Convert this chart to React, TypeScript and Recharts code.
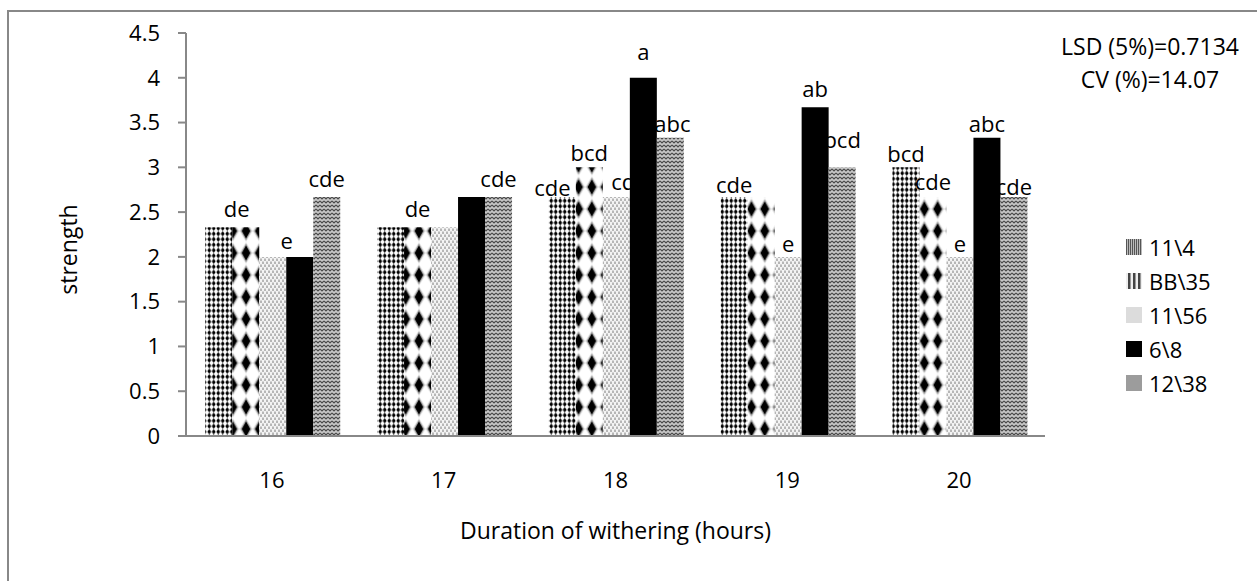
import { BarChart, Bar, XAxis, YAxis, LabelList, Label } from "recharts";

// categories
const hours = ["16", "17", "18", "19", "20"];

// series (strength)
const names = ["11\\4", "BB\\35", "11\\56", "6\\8", "12\\38"];
const v114 = [2.33, 2.33, 2.67, 2.67, 3.0];
const vBB35 = [2.33, 2.33, 3.0, 2.67, 2.67];
const v1156 = [2.0, 2.33, 2.67, 2.0, 2.0];
const v68 = [2.0, 2.67, 4.0, 3.67, 3.33];
const v1238 = [2.67, 2.67, 3.33, 3.0, 2.67];

// significance letters (blank where the chart shows none)
const l114 = ["", "", "cde", "cde", "bcd"];
const lBB35 = ["de", "de", "bcd", "", "cde"];
const l1156 = ["e", "", "cde", "e", "e"];
const l68 = ["", "", "a", "ab", "abc"];
const l1238 = ["cde", "cde", "abc", "bcd", "cde"];

const yTicks = [0, 0.5, 1, 1.5, 2, 2.5, 3, 3.5, 4, 4.5];
const bandEdges = [0, 1, 2, 3, 4, 5];

const data = hours.map((h, i) => ({
  hour: h,
  s1: v114[i],
  s2: vBB35[i],
  s3: v1156[i],
  s4: v68[i],
  s5: v1238[i],
}));

// label placement tweaks [dx, gap above bar]
const nudge1 = [[0, 6], [0, 6], [-10, 1], [0, 4], [0, 5]];
const nudge2 = [[-9, 10], [0, 10], [0, 6], [0, 6], [0, 7]];
const nudge3 = [[14, 8], [0, 6], [13, 7], [0, 5], [0, 5]];
const nudge4 = [[0, 6], [0, 6], [0, 18], [0, 10], [0, 6]];
const nudge5 = [[0, 10], [0, 10], [2, 6], [0, 19], [0, 2]];

const FONT = "'Open Sans', sans-serif";
const AXIS = "#888888";

const makeLabel = (labels: string[], nudge: number[][]) => (props: any) => {
  const i = props.index;
  const text = labels[i];
  if (!text) return null;
  const vb = props.viewBox || props;
  const x = (vb.x ?? props.x) + (vb.width ?? props.width) / 2 + nudge[i][0];
  const y = (vb.y ?? props.y) - nudge[i][1];
  return (
    <text x={x} y={y} textAnchor="middle" fontSize={22} fontFamily={FONT} fill="#000">
      {text}
    </text>
  );
};

const swatches = [
  "repeating-linear-gradient(90deg, #555 0 1px, #bbb 1px 2px)",
  "repeating-linear-gradient(90deg, #eee 0 2px, #444 2px 4px, #999 4px 5px)",
  "#dcdcdc",
  "#000",
  "#9c9c9c",
];

const LegendBox = () => (
  <div style={{ position: "absolute", left: 1126, top: 230, fontFamily: FONT, fontSize: 22, color: "#000" }}>
    {names.map((n, i) => (
      <div key={n} style={{ display: "flex", alignItems: "center", height: 34 }}>
        <div style={{ width: 16, height: 16, background: swatches[i], marginRight: 7 }} />
        <span>{n}</span>
      </div>
    ))}
  </div>
);

export default function App() {
  return (
    <div style={{ position: "absolute", left: 0, top: 0, width: 1257, height: 581, overflow: "hidden", background: "#fff" }}>
      <div
        style={{
          position: "absolute",
          left: 7,
          top: 10,
          width: 1400,
          height: 700,
          borderLeft: `2px solid ${AXIS}`,
          borderTop: `2px solid ${AXIS}`,
        }}
      />
      <div
        style={{
          position: "absolute",
          left: 1050,
          top: 30,
          width: 200,
          textAlign: "center",
          fontFamily: FONT,
          fontSize: 23,
          lineHeight: "33px",
          color: "#000",
        }}
      >
        <div>LSD (5%)=0.7134</div>
        <div>CV (%)=14.07</div>
      </div>
      <div style={{ position: "absolute", left: 0, top: 0 }}>
        <BarChart
          width={1257}
          height={581}
          data={data}
          margin={{ top: 33, right: 212, left: 0, bottom: 0 }}
          barCategoryGap="11.2%"
          barGap={0}
          style={{ fontFamily: FONT }}
        >
          <defs>
            <pattern id="p114" width="4.5" height="5.5" patternUnits="userSpaceOnUse">
              <rect width="4.5" height="5.5" fill="#fff" />
              <polygon points="2.25,0 4.2,2.75 2.25,5.5 0.3,2.75" fill="#000" />
            </pattern>
            <pattern id="pBB35" width="13.3" height="22" patternUnits="userSpaceOnUse">
              <rect width="13.3" height="22" fill="#fff" />
              <polygon points="6.65,0 13.3,11 6.65,22 0,11" fill="#e4e4e4" />
              <polygon points="6.65,1.5 12,11 6.65,20.5 1.3,11" fill="#9a9a9a" />
              <polygon points="6.65,3.5 10.8,11 6.65,18.5 2.5,11" fill="#000" />
            </pattern>
            <pattern id="p1156" width="4" height="6" patternUnits="userSpaceOnUse">
              <rect width="4" height="6" fill="#f4f4f4" />
              <line x1="1" y1="0.5" x2="1" y2="3" stroke="#6a6a6a" strokeWidth="0.9" />
              <line x1="3" y1="3.5" x2="3" y2="6" stroke="#6a6a6a" strokeWidth="0.9" />
            </pattern>
            <pattern id="p1238" width="4" height="4" patternUnits="userSpaceOnUse">
              <rect width="4" height="4" fill="#c8c8c8" />
              <path d="M0 1 L2 3 L4 1" stroke="#4a4a4a" strokeWidth="1.1" fill="none" />
            </pattern>
          </defs>
          <XAxis
            xAxisId={0}
            type="number"
            domain={[0, 5]}
            ticks={bandEdges}
            allowDataOverflow
            height={1}
            tick={false}
            tickSize={9}
            axisLine={{ stroke: AXIS, strokeWidth: 2 }}
            tickLine={{ stroke: AXIS, strokeWidth: 2 }}
          />
          <XAxis
            xAxisId={1}
            dataKey="hour"
            height={144}
            axisLine={false}
            tickLine={false}
            tickSize={0}
            tickMargin={35}
            tick={{ fontSize: 22, fill: "#000", fontFamily: FONT }}
          >
            <Label
              value="Duration of withering (hours)"
              position="insideBottom"
              offset={42}
              style={{ fontSize: 23, fill: "#000", fontFamily: FONT }}
            />
          </XAxis>
          <YAxis
            width={186}
            domain={[0, 4.5]}
            ticks={yTicks}
            interval={0}
            tickSize={8}
            tickMargin={18}
            axisLine={{ stroke: AXIS, strokeWidth: 2 }}
            tickLine={{ stroke: AXIS, strokeWidth: 2 }}
            tick={{ fontSize: 22, fill: "#000", fontFamily: FONT }}
          >
            <Label
              value="strength"
              angle={-90}
              position="center"
              dx={-24}
              dy={15}
              style={{ fontSize: 23, fill: "#000", fontFamily: FONT }}
            />
          </YAxis>
          <Bar xAxisId={1} dataKey="s1" name={names[0]} fill="url(#p114)" isAnimationActive={false}>
            <LabelList dataKey="s1" content={makeLabel(l114, nudge1)} />
          </Bar>
          <Bar xAxisId={1} dataKey="s2" name={names[1]} fill="url(#pBB35)" isAnimationActive={false}>
            <LabelList dataKey="s2" content={makeLabel(lBB35, nudge2)} />
          </Bar>
          <Bar xAxisId={1} dataKey="s3" name={names[2]} fill="url(#p1156)" isAnimationActive={false}>
            <LabelList dataKey="s3" content={makeLabel(l1156, nudge3)} />
          </Bar>
          <Bar xAxisId={1} dataKey="s4" name={names[3]} fill="#000" isAnimationActive={false}>
            <LabelList dataKey="s4" content={makeLabel(l68, nudge4)} />
          </Bar>
          <Bar xAxisId={1} dataKey="s5" name={names[4]} fill="url(#p1238)" isAnimationActive={false}>
            <LabelList dataKey="s5" content={makeLabel(l1238, nudge5)} />
          </Bar>
        </BarChart>
      </div>
      <LegendBox />
    </div>
  );
}
